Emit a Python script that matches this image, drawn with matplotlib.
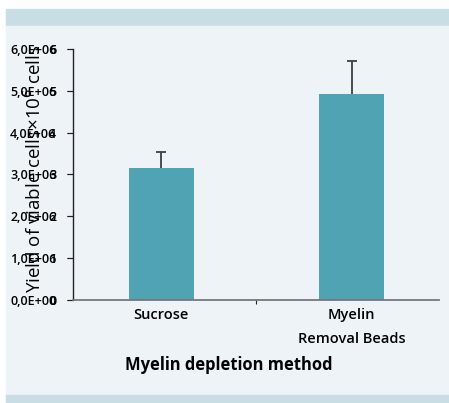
import matplotlib
matplotlib.use("Agg")
import matplotlib.pyplot as plt
from matplotlib.patches import Rectangle

categories = ["Sucrose", "Myelin\nRemoval Beads"]
values = [3.16, 4.93]
errors = [0.38, 0.79]
ytick_vals = [0, 1, 2, 3, 4, 5, 6]
ytick_labels = ["0,0E+00", "1,0E+06", "2,0E+06", "3,0E+06", "4,0E+06", "5,0E+06", "6,0E+06"]
ytick_labels2 = ["0", "1", "2", "3", "4", "5", "6"]

W, H = 449, 403
fig = plt.figure(figsize=(W / 100, H / 100), dpi=100)
fig.patch.set_facecolor("white")

band = "#c9dde4"
panel = "#eef3f7"
fig.patches.append(Rectangle((6 / W, 1 - 26 / H), 1, 17 / H, transform=fig.transFigure, color=band, zorder=-10))
fig.patches.append(Rectangle((6 / W, 1 - 395 / H), 1, 369 / H, transform=fig.transFigure, color=panel, zorder=-10))
fig.patches.append(Rectangle((6 / W, 0), 1, 8 / H, transform=fig.transFigure, color=band, zorder=-10))

ax = fig.add_axes([73 / W, (H - 300) / H, 366 / W, 251 / H])
ax.set_facecolor("none")
ax.set_zorder(5)

fam = ["Open Sans", "DejaVu Sans"]
x = list(range(len(categories)))
bar_color = "#4fa3b3"
ax.errorbar(x, values, yerr=errors, fmt="none", ecolor="#3a3f44",
            elinewidth=1.3, capsize=3.6, capthick=1.3, zorder=1)
ax.bar(x, values, width=0.34, color=bar_color, zorder=2)

ax.set_xlim(-0.465, 1.46)
ax.set_ylim(0, 6)

for s in ["top", "right"]:
    ax.spines[s].set_visible(False)
ax.spines["left"].set_color("#222222")
ax.spines["left"].set_linewidth(1.0)
ax.spines["bottom"].set_color("#777777")
ax.spines["bottom"].set_linewidth(1.3)

ax.set_yticks(ytick_vals)
ax.set_yticklabels(ytick_labels, fontsize=9, fontweight="semibold", family=fam)
ax.tick_params(axis="y", direction="out", length=4, width=0.8, color="#222222", pad=8)

ax.set_xticks([0.5])
ax.set_xticklabels([""])
ax.tick_params(axis="x", which="major", direction="out", length=3, width=0.8, color="#222222")
ax.set_xticks(x, minor=True)
ax.set_xticklabels(categories, minor=True, fontsize=10.5, fontweight="semibold", family=fam, linespacing=1.85)
ax.tick_params(axis="x", which="minor", length=0, pad=6)

sec = ax.secondary_yaxis("left")
sec.spines["left"].set_visible(False)
sec.set_yticks(ytick_vals)
sec.set_yticklabels(ytick_labels2, fontsize=9, fontweight="semibold", family=fam)
sec.tick_params(axis="y", direction="out", length=4, width=0.8, color="#222222", pad=8)

fig.text(229 / W, 1 - 365 / H, "Myelin depletion method", ha="center", va="center",
         fontsize=11.9, fontweight="bold", family=fam)
fig.text(34 / W, 1 - 169 / H, "Yield of viable cells×10$^6$ cells", ha="center", va="center",
         rotation=90, fontsize=13.5, family=fam, zorder=6)

fig.savefig("out.png", dpi=100)
